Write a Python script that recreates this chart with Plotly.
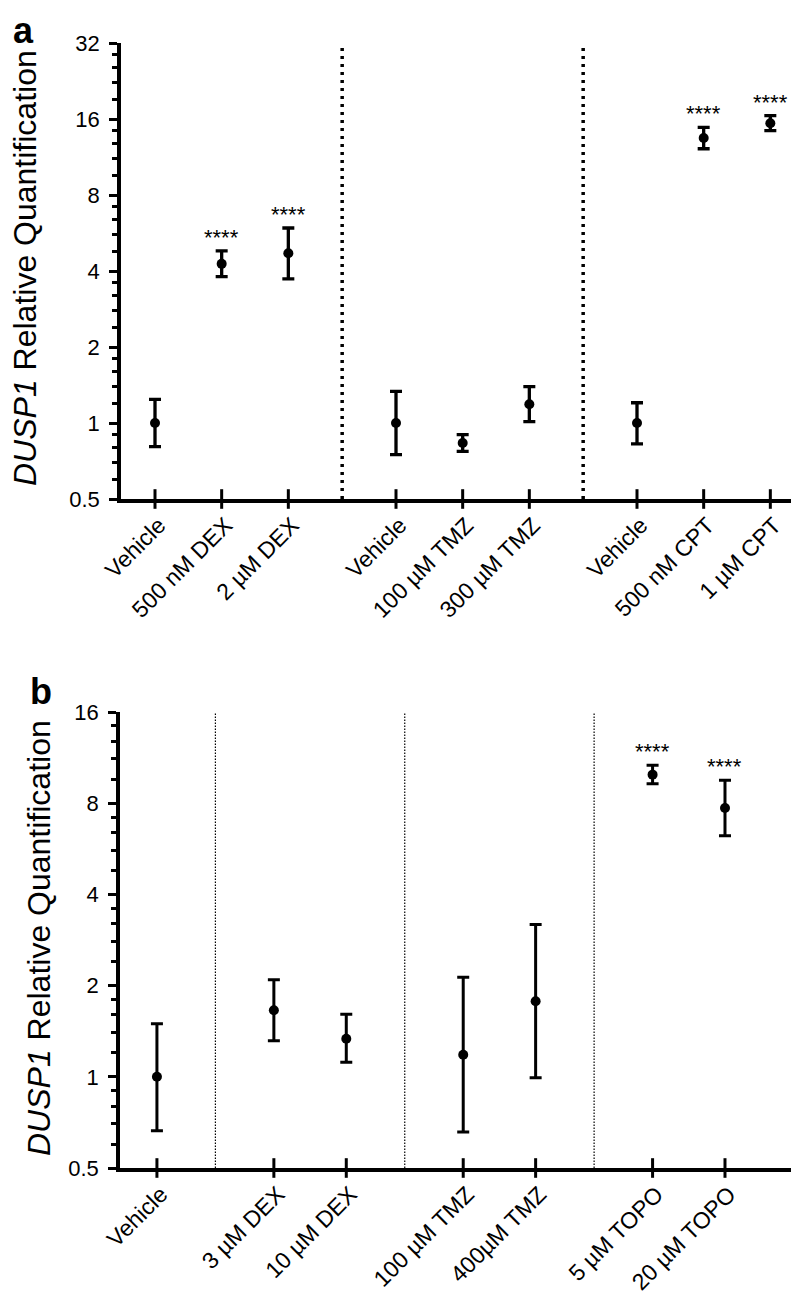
import numpy as np
import plotly.graph_objects as go

# ---------------- data ----------------
labels_a = ["Vehicle", "500 nM DEX", "2 µM DEX", "Vehicle", "100 µM TMZ", "300 µM TMZ",
            "Vehicle", "500 nM CPT", "1 µM CPT"]
group_a = [0, 0, 0, 1, 1, 1, 2, 2, 2]
mean_a = [1.0, 4.27, 4.70, 1.0, 0.833, 1.186, 1.0, 13.45, 15.4]
upper_a = [1.24, 4.81, 5.92, 1.335, 0.899, 1.393, 1.203, 14.83, 16.5]
lower_a = [0.806, 3.80, 3.72, 0.749, 0.772, 1.012, 0.826, 12.2, 14.4]
sig_a = ["", "****", "****", "", "", "", "", "****", "****"]

labels_b = ["Vehicle", "3 µM DEX", "10 µM DEX", "100 µM TMZ", "400µM TMZ", "5 µM TOPO", "20 µM TOPO"]
group_b = [0, 1, 1, 2, 2, 3, 3]
mean_b = [1.0, 1.658, 1.336, 1.183, 1.775, 9.94, 7.71]
upper_b = [1.497, 2.09, 1.608, 2.13, 3.18, 10.67, 9.52]
lower_b = [0.664, 1.316, 1.117, 0.657, 0.993, 9.28, 6.25]
sig_b = ["", "", "", "", "", "****", "****"]

yticks_a = [0.5, 1, 2, 4, 8, 16, 32]
yticks_b = [0.5, 1, 2, 4, 8, 16]
ytext_a = ["0.5", "1", "2", "4", "8", "16", "32"]
ytext_b = ["0.5", "1", "2", "4", "8", "16"]

# ---------------- layout helpers ----------------
W, H = 799, 1301
FONT = "Liberation Sans, Arial, sans-serif"
GAP = 0.615


def positions(groups):
    return [i + g * GAP for i, g in enumerate(groups)]


def minor_vals(majors):
    out = []
    for m in majors[:-1]:
        out += [m * f for f in (1.2, 1.4, 1.6, 1.8)]
    return out


def px_x(p):
    return p / W


def px_y(p):
    return 1 - p / H


pos_a = positions(group_a)
pos_b = positions(group_b)

fig = go.Figure()


def add_panel(pos, mean, upper, lower, sig, xa, ya, capw, thick):
    ea = [u - m for u, m in zip(upper, mean)]
    em = [m - l for m, l in zip(mean, lower)]
    fig.add_trace(go.Scatter(
        x=pos, y=mean, mode="markers", xaxis=xa, yaxis=ya,
        marker=dict(color="black", size=10),
        error_y=dict(type="data", symmetric=False, array=ea, arrayminus=em,
                     color="black", thickness=thick, width=capw),
        showlegend=False, hoverinfo="skip", cliponaxis=False))
    ybottom = [yticks_a[0]] * len(pos)
    fig.add_trace(go.Scatter(
        x=pos, y=ybottom, mode="markers", xaxis=xa, yaxis=ya,
        marker=dict(symbol="line-ns", size=14, line=dict(color="black", width=3)),
        showlegend=False, hoverinfo="skip", cliponaxis=False))
    for p, u, s in zip(pos, upper, sig):
        if s:
            fig.add_annotation(x=p, y=np.log10(u), xref=xa, yref=ya, text=s,
                               showarrow=False, yanchor="bottom", yshift=-1,
                               font=dict(size=22, color="black", family=FONT))


add_panel(pos_a, mean_a, upper_a, lower_a, sig_a, "x", "y", 6, 3.3)
add_panel(pos_b, mean_b, upper_b, lower_b, sig_b, "x2", "y2", 6, 3.0)


def seps(pos, groups):
    out = []
    for i in range(1, len(pos)):
        if groups[i] != groups[i - 1]:
            out.append((pos[i] + pos[i - 1]) / 2)
    return out


for s in seps(pos_a, group_a):
    fig.add_shape(type="line", xref="x", yref="y domain", x0=s, x1=s, y0=0, y1=1,
                  line=dict(color="black", width=3.5, dash="3px,5px"), layer="below")
for s in seps(pos_b, group_b):
    fig.add_shape(type="line", xref="x2", yref="y2 domain", x0=s, x1=s, y0=0, y1=1,
                  line=dict(color="black", width=1.2, dash="1.5px,1.5px"), layer="below")

xcommon = dict(showgrid=False, zeroline=False, showline=True, linecolor="black", linewidth=3.5,
               ticks="", tickangle=-45, ticklabelshift=4,
               automargin=False,
               tickfont=dict(family=FONT, size=23, color="black"))
ycommon = dict(type="log", showgrid=False, zeroline=False, showline=True, linecolor="black",
               linewidth=3.5, ticks="outside", ticklen=8, tickwidth=3, tickcolor="black",
               automargin=False, ticklabelstandoff=5,
               tickfont=dict(family=FONT, size=22, color="black"))

fig.update_layout(
    template="none",
    width=W, height=H, margin=dict(l=0, r=0, t=0, b=0, autoexpand=False),
    paper_bgcolor="white", plot_bgcolor="white",
    font=dict(family=FONT, color="black"),
    xaxis=dict(domain=[px_x(113), px_x(797)], range=[-0.51, 9.75], anchor="y",
               tickvals=pos_a, ticktext=labels_a, **xcommon),
    yaxis=dict(domain=[px_y(491), px_y(35)], range=[np.log10(0.5), np.log10(32)], anchor="x",
               tickvals=yticks_a, ticktext=ytext_a,
               minor=dict(tickvals=minor_vals(yticks_a), ticks="outside", ticklen=5,
                          tickwidth=3, tickcolor="black", showgrid=False),
               **ycommon),
    xaxis2=dict(domain=[px_x(112), px_x(797)], range=[-0.51, 8.95], anchor="y2",
                tickvals=pos_b, ticktext=labels_b, **xcommon),
    yaxis2=dict(domain=[px_y(1160), px_y(704)], range=[np.log10(0.5), np.log10(16)], anchor="x2",
                tickvals=yticks_b, ticktext=ytext_b,
                minor=dict(tickvals=minor_vals(yticks_b), ticks="outside", ticklen=5,
                           tickwidth=3, tickcolor="black", showgrid=False),
                **ycommon),
)

ytitle = "<i>DUSP1</i> Relative Quantification"
fig.add_annotation(x=px_x(17), y=px_y(260), xref="paper", yref="paper", text=ytitle,
                   textangle=-90, showarrow=False, xanchor="center", yanchor="middle",
                   font=dict(size=32, family=FONT, color="black"))
fig.add_annotation(x=px_x(31), y=px_y(930), xref="paper", yref="paper", text=ytitle,
                   textangle=-90, showarrow=False, xanchor="center", yanchor="middle",
                   font=dict(size=32, family=FONT, color="black"))
fig.add_annotation(x=px_x(3), y=px_y(0), xref="paper", yref="paper", text="<b>a</b>",
                   showarrow=False, xanchor="left", yanchor="top",
                   font=dict(size=36, family=FONT, color="black"))
fig.add_annotation(x=px_x(20), y=px_y(661), xref="paper", yref="paper", text="<b>b</b>",
                   showarrow=False, xanchor="left", yanchor="top",
                   font=dict(size=36, family=FONT, color="black"))

fig.write_html("out.html")
